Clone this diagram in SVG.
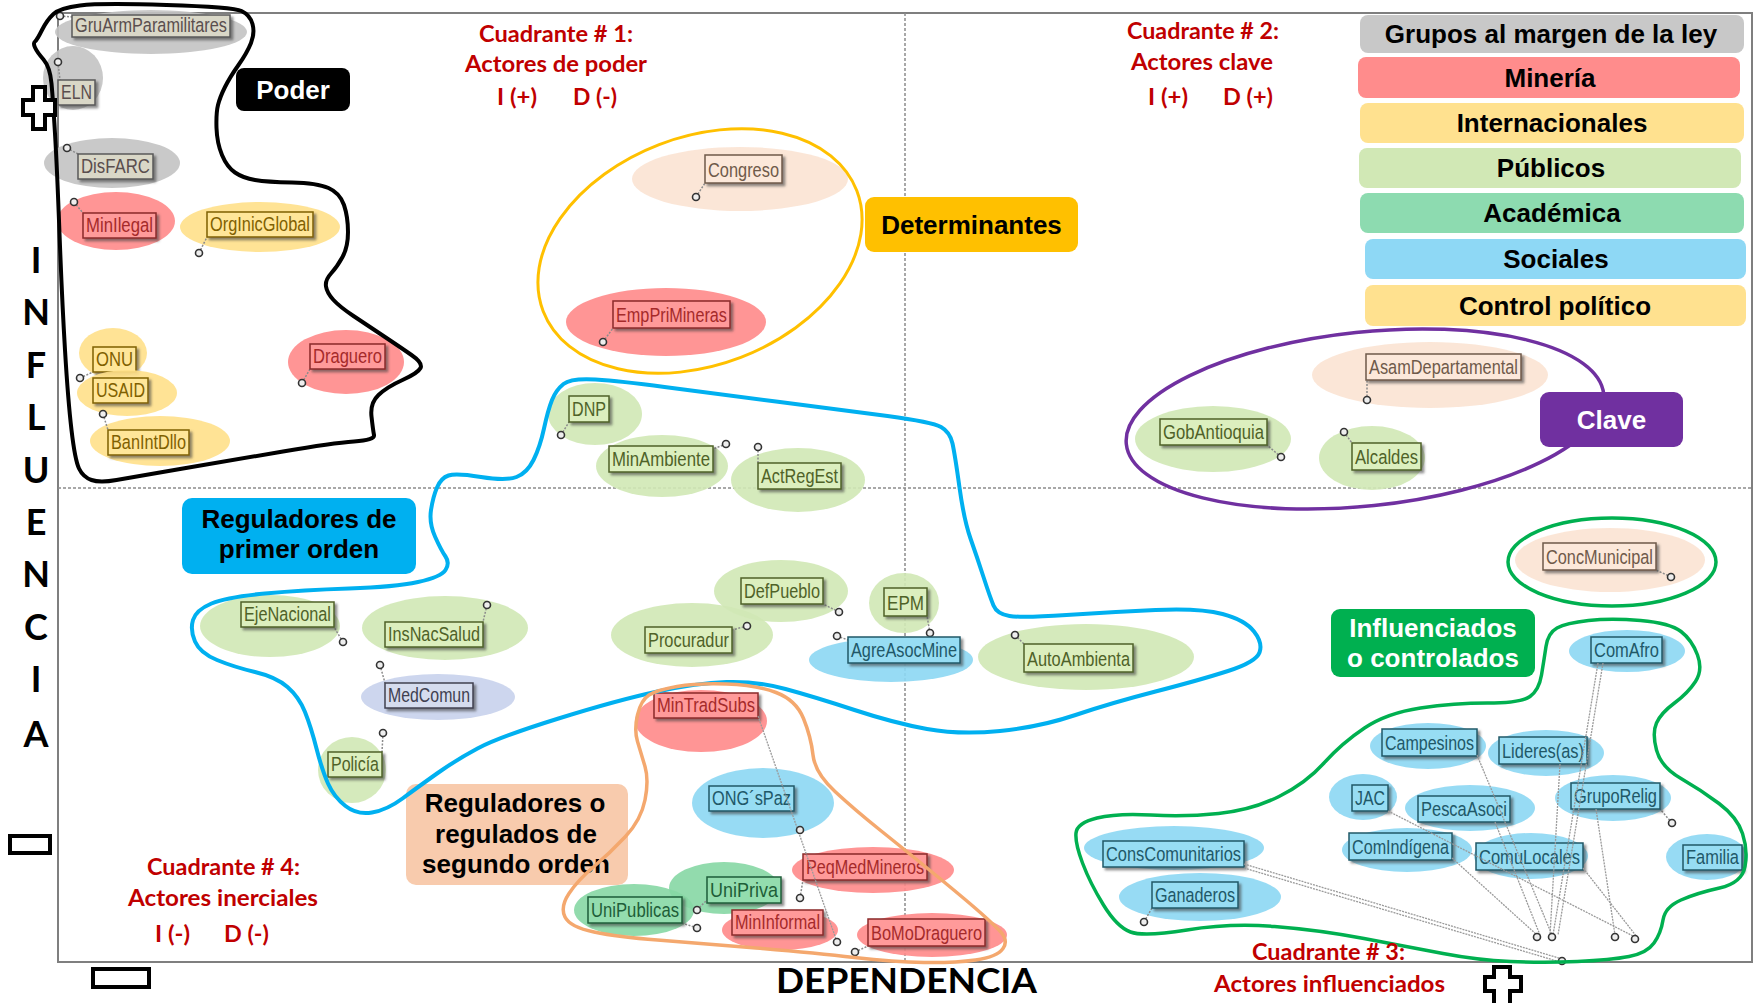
<svg xmlns="http://www.w3.org/2000/svg" xmlns:xlink="http://www.w3.org/1999/xlink" width="1754" height="1003" viewBox="0 0 1754 1003">
<style>
.e{fill-opacity:.9}
.e-gr{fill:#C3C3C3}.e-mi{fill:#FF8A8A}.e-in{fill:#FFE08A}.e-pu{fill:#D0E8B5}.e-ac{fill:#86D7A4}.e-so{fill:#8CD7F3}.e-cp{fill:#FBE3D3}.e-mc{fill:#C8D2EC}
.b{stroke-width:1.5;filter:url(#sh)}
.b-gr{fill:#D9D7C7;stroke:#595959}.b-mi{fill:#FF9A9A;stroke:#8B2A2A}.b-in{fill:#FFE699;stroke:#7F6000}.b-pu{fill:#DCEFBE;stroke:#4F6228}.b-ac{fill:#93DDAE;stroke:#1E5E38}.b-so{fill:#97DDF3;stroke:#215868}.b-cp{fill:#FCE8DA;stroke:#6F5A4A}.b-mc{fill:#D5DCEE;stroke:#404050}
.t{font-family:"Liberation Sans",Arial,sans-serif;font-size:20.5px}
.t-gr{fill:#5A4E4E}.t-mi{fill:#A52A2A}.t-in{fill:#7F6000}.t-pu{fill:#4F6228}.t-ac{fill:#1E5E38}.t-so{fill:#215868}.t-cp{fill:#6F5A4A}.t-mc{fill:#404050}
.pl{stroke:#8C8C8C;stroke-width:1.5;stroke-dasharray:2 1.5;fill:none}
.cn{stroke:#9A9A9A;stroke-width:1.3;stroke-dasharray:2 1;fill:none}
.blob{fill:none;stroke-linejoin:round}
.lg{font-family:"Liberation Sans",Arial,sans-serif;font-weight:bold;font-size:26px;text-anchor:middle;fill:#000}
.cw{fill:#fff}
.q{font-family:Lato,"Liberation Sans",sans-serif;font-weight:bold;font-size:22px;fill:#C00000}
.ax{font-family:Lato,"Liberation Sans",sans-serif;font-weight:bold;font-size:36px;fill:#000;text-anchor:middle}
.sg{fill:#fff;stroke:#000;stroke-width:4}
</style>
<defs>
<filter id="sh" x="-10%" y="-20%" width="130%" height="160%"><feDropShadow dx="2.5" dy="2.5" stdDeviation="1" flood-color="#404040" flood-opacity="0.6"/></filter>
<g id="pin"><circle r="3.5" fill="#EEEEEE" stroke="#333333" stroke-width="1.6"/></g>
</defs>
<rect width="1754" height="1003" fill="#fff"/>
<g id="frame">
<rect x="58" y="13" width="1694" height="949" fill="none" stroke="#7F7F7F" stroke-width="2"/>
<line x1="58" y1="488" x2="1752" y2="488" stroke="#8C8C8C" stroke-width="1.5" stroke-dasharray="3 2"/>
<line x1="905" y1="13" x2="905" y2="962" stroke="#8C8C8C" stroke-width="1.5" stroke-dasharray="3 2"/>
</g>
<g id="nodes">
<g id="n-GruArmParamilitares"><ellipse class="e e-gr" cx="151" cy="32" rx="96" ry="22"/><line class="pl" x1="60" y1="16" x2="72" y2="17"/><use href="#pin" x="60" y="16"/><rect class="b b-gr" x="72" y="15" width="158" height="22"/><text class="t t-gr" x="75" y="32" textLength="152" lengthAdjust="spacingAndGlyphs">GruArmParamilitares</text></g>
<g id="n-ELN"><ellipse class="e e-gr" cx="73" cy="78" rx="30" ry="32"/><line class="pl" x1="58" y1="62" x2="60" y2="80"/><use href="#pin" x="58" y="62"/><rect class="b b-gr" x="58" y="80" width="37" height="25"/><text class="t t-gr" x="61" y="99" textLength="31" lengthAdjust="spacingAndGlyphs">ELN</text></g>
<g id="n-DisFARC"><ellipse class="e e-gr" cx="112" cy="163" rx="68" ry="25"/><line class="pl" x1="67" y1="148" x2="78" y2="154"/><use href="#pin" x="67" y="148"/><rect class="b b-gr" x="78" y="154" width="75" height="25"/><text class="t t-gr" x="81" y="173" textLength="69" lengthAdjust="spacingAndGlyphs">DisFARC</text></g>
<g id="n-MinIlegal"><ellipse class="e e-mi" cx="116" cy="221" rx="59" ry="29"/><line class="pl" x1="74" y1="202" x2="83" y2="213"/><use href="#pin" x="74" y="202"/><rect class="b b-mi" x="83" y="213" width="73" height="25"/><text class="t t-mi" x="86" y="232" textLength="67" lengthAdjust="spacingAndGlyphs">MinIlegal</text></g>
<g id="n-OrgInicGlobal"><ellipse class="e e-in" cx="260" cy="227" rx="80" ry="25"/><line class="pl" x1="199" y1="253" x2="207" y2="237"/><use href="#pin" x="199" y="253"/><rect class="b b-in" x="207" y="212" width="106" height="25"/><text class="t t-in" x="210" y="231" textLength="100" lengthAdjust="spacingAndGlyphs">OrgInicGlobal</text></g>
<g id="n-Draguero"><ellipse class="e e-mi" cx="346" cy="362" rx="58" ry="32"/><line class="pl" x1="302" y1="383" x2="310" y2="369"/><use href="#pin" x="302" y="383"/><rect class="b b-mi" x="310" y="344" width="75" height="25"/><text class="t t-mi" x="313" y="363" textLength="69" lengthAdjust="spacingAndGlyphs">Draguero</text></g>
<g id="n-ONU"><ellipse class="e e-in" cx="113" cy="353" rx="34" ry="25"/><rect class="b b-in" x="93" y="347" width="43" height="25"/><text class="t t-in" x="96" y="366" textLength="37" lengthAdjust="spacingAndGlyphs">ONU</text></g>
<g id="n-USAID"><ellipse class="e e-in" cx="127" cy="393" rx="50" ry="23"/><line class="pl" x1="80" y1="378" x2="93" y2="372"/><use href="#pin" x="80" y="378"/><rect class="b b-in" x="93" y="378" width="55" height="25"/><text class="t t-in" x="96" y="397" textLength="49" lengthAdjust="spacingAndGlyphs">USAID</text></g>
<g id="n-BanIntDllo"><ellipse class="e e-in" cx="160" cy="441" rx="70" ry="25"/><line class="pl" x1="103" y1="414" x2="108" y2="430"/><use href="#pin" x="103" y="414"/><rect class="b b-in" x="108" y="430" width="81" height="25"/><text class="t t-in" x="111" y="449" textLength="75" lengthAdjust="spacingAndGlyphs">BanIntDllo</text></g>
<g id="n-Congreso"><ellipse class="e e-cp" cx="740" cy="179" rx="108" ry="32"/><line class="pl" x1="696" y1="197" x2="705" y2="183"/><use href="#pin" x="696" y="197"/><rect class="b b-cp" x="705" y="155" width="77" height="28"/><text class="t t-cp" x="708" y="177" textLength="71" lengthAdjust="spacingAndGlyphs">Congreso</text></g>
<g id="n-EmpPriMineras"><ellipse class="e e-mi" cx="666" cy="322" rx="100" ry="34"/><line class="pl" x1="603" y1="342" x2="613" y2="328"/><use href="#pin" x="603" y="342"/><rect class="b b-mi" x="613" y="301" width="117" height="27"/><text class="t t-mi" x="616" y="322" textLength="111" lengthAdjust="spacingAndGlyphs">EmpPriMineras</text></g>
<g id="n-AsamDepartamental"><ellipse class="e e-cp" cx="1430" cy="375" rx="118" ry="33"/><line class="pl" x1="1367" y1="400" x2="1367" y2="380"/><use href="#pin" x="1367" y="400"/><rect class="b b-cp" x="1366" y="354" width="155" height="26"/><text class="t t-cp" x="1369" y="374" textLength="149" lengthAdjust="spacingAndGlyphs">AsamDepartamental</text></g>
<g id="n-GobAntioquia"><ellipse class="e e-pu" cx="1213" cy="439" rx="78" ry="33"/><line class="pl" x1="1281" y1="457" x2="1267" y2="445"/><use href="#pin" x="1281" y="457"/><rect class="b b-pu" x="1160" y="419" width="107" height="26"/><text class="t t-pu" x="1163" y="439" textLength="101" lengthAdjust="spacingAndGlyphs">GobAntioquia</text></g>
<g id="n-Alcaldes"><ellipse class="e e-pu" cx="1372" cy="458" rx="53" ry="32"/><line class="pl" x1="1344" y1="432" x2="1352" y2="443"/><use href="#pin" x="1344" y="432"/><rect class="b b-pu" x="1352" y="443" width="69" height="27"/><text class="t t-pu" x="1355" y="464" textLength="63" lengthAdjust="spacingAndGlyphs">Alcaldes</text></g>
<g id="n-DNP"><ellipse class="e e-pu" cx="595" cy="414" rx="47" ry="31"/><line class="pl" x1="561" y1="435" x2="569" y2="422"/><use href="#pin" x="561" y="435"/><rect class="b b-pu" x="569" y="396" width="40" height="26"/><text class="t t-pu" x="572" y="416" textLength="34" lengthAdjust="spacingAndGlyphs">DNP</text></g>
<g id="n-MinAmbiente"><ellipse class="e e-pu" cx="662" cy="466" rx="66" ry="31"/><line class="pl" x1="726" y1="444" x2="713" y2="449"/><use href="#pin" x="726" y="444"/><rect class="b b-pu" x="609" y="446" width="104" height="26"/><text class="t t-pu" x="612" y="466" textLength="98" lengthAdjust="spacingAndGlyphs">MinAmbiente</text></g>
<g id="n-ActRegEst"><ellipse class="e e-pu" cx="798" cy="480" rx="67" ry="32"/><line class="pl" x1="758" y1="447" x2="758" y2="463"/><use href="#pin" x="758" y="447"/><rect class="b b-pu" x="758" y="463" width="83" height="26"/><text class="t t-pu" x="761" y="483" textLength="77" lengthAdjust="spacingAndGlyphs">ActRegEst</text></g>
<g id="n-EjeNacional"><ellipse class="e e-pu" cx="270" cy="626" rx="70" ry="31"/><line class="pl" x1="343" y1="642" x2="334" y2="627"/><use href="#pin" x="343" y="642"/><rect class="b b-pu" x="241" y="602" width="93" height="25"/><text class="t t-pu" x="244" y="621" textLength="87" lengthAdjust="spacingAndGlyphs">EjeNacional</text></g>
<g id="n-InsNacSalud"><ellipse class="e e-pu" cx="445" cy="628" rx="83" ry="32"/><line class="pl" x1="487" y1="605" x2="483" y2="622"/><use href="#pin" x="487" y="605"/><rect class="b b-pu" x="385" y="622" width="98" height="25"/><text class="t t-pu" x="388" y="641" textLength="92" lengthAdjust="spacingAndGlyphs">InsNacSalud</text></g>
<g id="n-MedComun"><ellipse class="e e-mc" cx="438" cy="697" rx="77" ry="23"/><line class="pl" x1="380" y1="665" x2="385" y2="683"/><use href="#pin" x="380" y="665"/><rect class="b b-mc" x="385" y="683" width="88" height="25"/><text class="t t-mc" x="388" y="702" textLength="82" lengthAdjust="spacingAndGlyphs">MedComun</text></g>
<g id="n-Policia"><ellipse class="e e-pu" cx="352" cy="770" rx="34" ry="33"/><line class="pl" x1="383" y1="733" x2="382" y2="752"/><use href="#pin" x="383" y="733"/><rect class="b b-pu" x="328" y="752" width="54" height="25"/><text class="t t-pu" x="331" y="771" textLength="48" lengthAdjust="spacingAndGlyphs">Policía</text></g>
<g id="n-Procuradur"><ellipse class="e e-pu" cx="692" cy="635" rx="81" ry="32"/><line class="pl" x1="747" y1="626" x2="732" y2="630"/><use href="#pin" x="747" y="626"/><rect class="b b-pu" x="645" y="627" width="87" height="26"/><text class="t t-pu" x="648" y="647" textLength="81" lengthAdjust="spacingAndGlyphs">Procuradur</text></g>
<g id="n-DefPueblo"><ellipse class="e e-pu" cx="781" cy="591" rx="67" ry="31"/><line class="pl" x1="839" y1="612" x2="823" y2="604"/><use href="#pin" x="839" y="612"/><rect class="b b-pu" x="741" y="578" width="82" height="26"/><text class="t t-pu" x="744" y="598" textLength="76" lengthAdjust="spacingAndGlyphs">DefPueblo</text></g>
<g id="n-EPM"><ellipse class="e e-pu" cx="904" cy="603" rx="35" ry="30"/><line class="pl" x1="930" y1="633" x2="927" y2="616"/><use href="#pin" x="930" y="633"/><rect class="b b-pu" x="884" y="588" width="43" height="28"/><text class="t t-pu" x="887" y="610" textLength="37" lengthAdjust="spacingAndGlyphs">EPM</text></g>
<g id="n-AgreAsocMine"><ellipse class="e e-so" cx="891" cy="660" rx="82" ry="22"/><line class="pl" x1="837" y1="636" x2="848" y2="640"/><use href="#pin" x="837" y="636"/><rect class="b b-so" x="848" y="637" width="112" height="26"/><text class="t t-so" x="851" y="657" textLength="106" lengthAdjust="spacingAndGlyphs">AgreAsocMine</text></g>
<g id="n-AutoAmbienta"><ellipse class="e e-pu" cx="1086" cy="657" rx="108" ry="33"/><line class="pl" x1="1015" y1="635" x2="1024" y2="644"/><use href="#pin" x="1015" y="635"/><rect class="b b-pu" x="1024" y="644" width="109" height="28"/><text class="t t-pu" x="1027" y="666" textLength="103" lengthAdjust="spacingAndGlyphs">AutoAmbienta</text></g>
<g id="n-MinTradSubs"><ellipse class="e e-mi" cx="701" cy="721" rx="66" ry="31"/><rect class="b b-mi" x="654" y="693" width="104" height="25"/><text class="t t-mi" x="657" y="712" textLength="98" lengthAdjust="spacingAndGlyphs">MinTradSubs</text></g>
<g id="n-ONGsPaz"><ellipse class="e e-so" cx="763" cy="803" rx="71" ry="35"/><rect class="b b-so" x="709" y="786" width="85" height="25"/><text class="t t-so" x="712" y="805" textLength="79" lengthAdjust="spacingAndGlyphs">ONG´sPaz</text></g>
<g id="n-PeqMedMineros"><ellipse class="e e-mi" cx="873" cy="870" rx="81" ry="23"/><line class="pl" x1="800" y1="898" x2="803" y2="880"/><use href="#pin" x="800" y="898"/><rect class="b b-mi" x="803" y="854" width="124" height="26"/><text class="t t-mi" x="806" y="874" textLength="118" lengthAdjust="spacingAndGlyphs">PeqMedMineros</text></g>
<g id="n-UniPriva"><ellipse class="e e-ac" cx="724" cy="888" rx="55" ry="26"/><rect class="b b-ac" x="707" y="877" width="74" height="26"/><text class="t t-ac" x="710" y="897" textLength="68" lengthAdjust="spacingAndGlyphs">UniPriva</text></g>
<g id="n-UniPublicas"><ellipse class="e e-ac" cx="634" cy="910" rx="60" ry="26"/><line class="pl" x1="697" y1="910" x2="707" y2="900"/><use href="#pin" x="697" y="910"/><line class="pl" x1="697" y1="928" x2="682" y2="923"/><use href="#pin" x="697" y="928"/><rect class="b b-ac" x="588" y="897" width="94" height="26"/><text class="t t-ac" x="591" y="917" textLength="88" lengthAdjust="spacingAndGlyphs">UniPublicas</text></g>
<g id="n-MinInformal"><ellipse class="e e-mi" cx="780" cy="930" rx="58" ry="20"/><rect class="b b-mi" x="732" y="910" width="91" height="25"/><text class="t t-mi" x="735" y="929" textLength="85" lengthAdjust="spacingAndGlyphs">MinInformal</text></g>
<g id="n-BoMoDraguero"><ellipse class="e e-mi" cx="932" cy="935" rx="75" ry="22"/><line class="pl" x1="855" y1="952" x2="868" y2="946"/><use href="#pin" x="855" y="952"/><rect class="b b-mi" x="868" y="919" width="117" height="27"/><text class="t t-mi" x="871" y="940" textLength="111" lengthAdjust="spacingAndGlyphs">BoMoDraguero</text></g>
<g id="n-ConcMunicipal"><ellipse class="e e-cp" cx="1610" cy="560" rx="95" ry="32"/><line class="pl" x1="1671" y1="577" x2="1656" y2="570"/><use href="#pin" x="1671" y="577"/><rect class="b b-cp" x="1543" y="543" width="113" height="27"/><text class="t t-cp" x="1546" y="564" textLength="107" lengthAdjust="spacingAndGlyphs">ConcMunicipal</text></g>
<g id="n-ComAfro"><ellipse class="e e-so" cx="1627" cy="651" rx="58" ry="21"/><rect class="b b-so" x="1591" y="637" width="71" height="26"/><text class="t t-so" x="1594" y="657" textLength="65" lengthAdjust="spacingAndGlyphs">ComAfro</text></g>
<g id="n-Campesinos"><ellipse class="e e-so" cx="1428" cy="746" rx="58" ry="23"/><rect class="b b-so" x="1382" y="729" width="95" height="27"/><text class="t t-so" x="1385" y="750" textLength="89" lengthAdjust="spacingAndGlyphs">Campesinos</text></g>
<g id="n-Lideres"><ellipse class="e e-so" cx="1546" cy="753" rx="58" ry="23"/><rect class="b b-so" x="1499" y="737" width="88" height="27"/><text class="t t-so" x="1502" y="758" textLength="82" lengthAdjust="spacingAndGlyphs">Lideres(as)</text></g>
<g id="n-JAC"><ellipse class="e e-so" cx="1363" cy="797" rx="34" ry="23"/><rect class="b b-so" x="1352" y="785" width="36" height="26"/><text class="t t-so" x="1355" y="805" textLength="30" lengthAdjust="spacingAndGlyphs">JAC</text></g>
<g id="n-PescaAsoci"><ellipse class="e e-so" cx="1470" cy="808" rx="65" ry="23"/><rect class="b b-so" x="1418" y="796" width="92" height="26"/><text class="t t-so" x="1421" y="816" textLength="86" lengthAdjust="spacingAndGlyphs">PescaAsoci</text></g>
<g id="n-GrupoRelig"><ellipse class="e e-so" cx="1613" cy="798" rx="58" ry="23"/><line class="pl" x1="1672" y1="823" x2="1660" y2="809"/><use href="#pin" x="1672" y="823"/><rect class="b b-so" x="1571" y="783" width="89" height="26"/><text class="t t-so" x="1574" y="803" textLength="83" lengthAdjust="spacingAndGlyphs">GrupoRelig</text></g>
<g id="n-ComIndigena"><ellipse class="e e-so" cx="1407" cy="850" rx="65" ry="22"/><rect class="b b-so" x="1349" y="833" width="103" height="27"/><text class="t t-so" x="1352" y="854" textLength="97" lengthAdjust="spacingAndGlyphs">ComIndígena</text></g>
<g id="n-ComuLocales"><ellipse class="e e-so" cx="1531" cy="856" rx="57" ry="23"/><rect class="b b-so" x="1476" y="843" width="107" height="27"/><text class="t t-so" x="1479" y="864" textLength="101" lengthAdjust="spacingAndGlyphs">ComuLocales</text></g>
<g id="n-Familia"><ellipse class="e e-so" cx="1707" cy="857" rx="41" ry="23"/><rect class="b b-so" x="1683" y="845" width="59" height="25"/><text class="t t-so" x="1686" y="864" textLength="53" lengthAdjust="spacingAndGlyphs">Familia</text></g>
<g id="n-ConsComunitarios"><ellipse class="e e-so" cx="1174" cy="848" rx="90" ry="22"/><rect class="b b-so" x="1103" y="841" width="141" height="26"/><text class="t t-so" x="1106" y="861" textLength="135" lengthAdjust="spacingAndGlyphs">ConsComunitarios</text></g>
<g id="n-Ganaderos"><ellipse class="e e-so" cx="1200" cy="897" rx="81" ry="24"/><line class="pl" x1="1144" y1="922" x2="1152" y2="908"/><use href="#pin" x="1144" y="922"/><rect class="b b-so" x="1152" y="882" width="86" height="26"/><text class="t t-so" x="1155" y="902" textLength="80" lengthAdjust="spacingAndGlyphs">Ganaderos</text></g>
</g>
<g id="c-segundo"><rect x="406" y="784" width="222" height="101" rx="10" fill="#F8CBAD"/>
<text class="lg" x="515" y="812">Reguladores o</text><text class="lg" x="516" y="843">regulados de</text><text class="lg" x="516" y="873">segundo orden</text></g>
<g id="connectors">
<line class="cn" x1="758" y1="716" x2="837" y2="942"/>
<line class="cn" x1="1244" y1="864" x2="1562" y2="959"/>
<line class="cn" x1="1244" y1="868" x2="1560" y2="962"/>
<line class="cn" x1="1598" y1="663" x2="1553" y2="935"/>
<line class="cn" x1="1603" y1="663" x2="1558" y2="935"/>
<line class="cn" x1="1477" y1="755" x2="1552" y2="935"/>
<line class="cn" x1="1388" y1="811" x2="1635" y2="937"/>
<line class="cn" x1="1452" y1="858" x2="1537" y2="935"/>
<line class="cn" x1="1596" y1="809" x2="1615" y2="935"/>
<line class="cn" x1="1583" y1="868" x2="1637" y2="937"/>
<line class="cn" x1="1495" y1="822" x2="1540" y2="935"/>
<line class="cn" x1="1560" y1="764" x2="1550" y2="935"/>
<use href="#pin" x="800" y="830"/><use href="#pin" x="837" y="942"/>
<use href="#pin" x="1537" y="937"/><use href="#pin" x="1552" y="937"/><use href="#pin" x="1615" y="937"/><use href="#pin" x="1635" y="939"/><use href="#pin" x="1562" y="961"/>
</g>
<g id="groups">
<path id="g-poder" class="blob" stroke="#000" stroke-width="4" d="M35,41.5 Q37,40 42,30 Q47,20 53.5,14 Q60,8 80,5.5 Q100,3 166.5,5 Q233,7 241.5,11 Q250,15 252.5,24 Q255,33 251,43 Q247,53 238.5,65 Q230,77 225,87 Q220,97 218,105 Q216,113 216.5,128 Q217,143 222,155 Q227,167 235,172.5 Q243,178 255,180 Q267,182 292,182.5 Q317,183 328.5,188 Q340,193 344,205 Q348,217 348,232 Q348,247 342.5,257 Q337,267 331,273.5 Q325,280 326,286.5 Q327,293 333.5,300 Q340,307 353.5,316 Q367,325 383.5,336 Q400,347 411.5,355 Q423,363 420.5,368 Q418,373 402.5,380 Q387,387 378.5,395 Q370,403 371.5,416.5 Q373,430 374,435 Q375,440 354,441.5 Q333,443 283,451.5 Q233,460 183,468.5 Q133,477 116.5,480 Q100,483 91.5,480 Q83,477 79,468.5 Q75,460 71.5,430 Q68,400 65,350 Q62,300 59.5,233.5 Q57,167 55,133.5 Q53,100 51.5,83.5 Q50,67 43.5,59.5 Q37,52 35,47.5 Q33,43 35,41.5 Z"/>
<ellipse id="g-determinantes" class="blob" cx="700" cy="251" rx="168" ry="114" transform="rotate(-21 700 251)" stroke="#FFC000" stroke-width="3"/>
<ellipse id="g-clave" class="blob" cx="1365" cy="419" rx="240" ry="87" transform="rotate(-6 1365 419)" stroke="#7030A0" stroke-width="3.5"/>
<path id="g-primer" class="blob" stroke="#00B0F0" stroke-width="4" d="M563.5,384 Q571,378 595.5,379.5 Q620,381 664.5,387 Q709,393 776,401.5 Q843,410 887.5,416 Q932,422 941,427 Q950,432 952.5,443.5 Q955,455 959.5,487.5 Q964,520 970.5,538.5 Q977,557 983.5,577 Q990,597 993.5,605.5 Q997,614 1009.5,616 Q1022,618 1066.5,615 Q1111,612 1155.5,610 Q1200,608 1222.5,614 Q1245,620 1254,631.5 Q1263,643 1259.5,652.5 Q1256,662 1228,671 Q1200,680 1155.5,691.5 Q1111,703 1075.5,715 Q1040,727 1000,731 Q960,735 927,729 Q894,723 854.5,710 Q815,697 785.5,689 Q756,681 726.5,682 Q697,683 657.5,691.5 Q618,700 558.5,718.5 Q499,737 477.5,748.5 Q456,760 437,773.5 Q418,787 402.5,798.5 Q387,810 372,812.5 Q357,815 345.5,806 Q334,797 328,783.5 Q322,770 316.5,748.5 Q311,727 305,712 Q299,697 287.5,687 Q276,677 255,672 Q234,667 217,660 Q200,653 195,641.5 Q190,630 193,620 Q196,610 211.5,603.5 Q227,597 265,593.5 Q303,590 349,588.5 Q395,587 418,582 Q441,577 445.5,570 Q450,563 445.5,556.5 Q441,550 435,536.5 Q429,523 431,510 Q433,497 437,487.5 Q441,478 448.5,475.5 Q456,473 481,477 Q506,481 516.5,477 Q527,473 533.5,460 Q540,447 544,428.5 Q548,410 552,400 Q556,390 563.5,384 Z"/>
<path id="g-segundo" class="blob" stroke="#F4A86E" stroke-width="3.5" d="M677,686.5 Q657,690 649,695 Q641,700 637.5,715 Q634,730 637.5,741.5 Q641,753 645,766.5 Q649,780 645,800 Q641,820 625.5,836.5 Q610,853 594,866.5 Q578,880 569,893.5 Q560,907 565,917 Q570,927 594,932 Q618,937 657.5,940 Q697,943 756,948 Q815,953 854.5,957.5 Q894,962 924,962.5 Q954,963 975.5,960 Q997,957 1003,948.5 Q1009,940 999,930 Q989,920 974.5,907.5 Q960,895 932.5,872.5 Q905,850 880,830 Q855,810 835,791.5 Q815,773 813,755 Q811,737 803.5,718.5 Q796,700 776,692.5 Q756,685 726.5,684 Q697,683 677,686.5 Z"/>
<ellipse id="g-concmunicipal" class="blob" cx="1612" cy="562" rx="104" ry="44" stroke="#00B050" stroke-width="3.5"/>
<path id="g-influenciados" class="blob" stroke="#00B050" stroke-width="3.5" d="M1546,646.5 Q1548,633 1557,628 Q1566,623 1588.5,620.5 Q1611,618 1640.5,620.5 Q1670,623 1681,631.5 Q1692,640 1697.5,655 Q1703,670 1695.5,681.5 Q1688,693 1674.5,703 Q1661,713 1656.5,723 Q1652,733 1656.5,750 Q1661,767 1681,778.5 Q1701,790 1719,803.5 Q1737,817 1742.5,833.5 Q1748,850 1745,866.5 Q1742,883 1719.5,888 Q1697,893 1681,900 Q1665,907 1663,920 Q1661,933 1654,943 Q1647,953 1629,956.5 Q1611,960 1577.5,961.5 Q1544,963 1510.5,961.5 Q1477,960 1443,953.5 Q1409,947 1364,938.5 Q1319,930 1274.5,926.5 Q1230,923 1187,930 Q1144,937 1130.5,932 Q1117,927 1103.5,905 Q1090,883 1082.5,863 Q1075,843 1076,833 Q1077,823 1097,818 Q1117,813 1151,815 Q1185,817 1218.5,813.5 Q1252,810 1279,796.5 Q1306,783 1324,763 Q1342,743 1364.5,728 Q1387,713 1420.5,708 Q1454,703 1487.5,703 Q1521,703 1530,696.5 Q1539,690 1541.5,675 Q1544,660 1546,646.5 Z"/>
</g>
<g id="callouts">
<g id="c-poder"><rect x="236" y="68" width="114" height="43" rx="8" fill="#000"/><text class="lg cw" x="293" y="99">Poder</text></g>
<g id="c-determinantes"><rect x="865" y="197" width="213" height="55" rx="9" fill="#FFC000"/><text class="lg" x="971.5" y="234">Determinantes</text></g>
<g id="c-clave"><rect x="1540" y="392" width="143" height="55" rx="9" fill="#7030A0"/><text class="lg cw" x="1611.5" y="429">Clave</text></g>
<g id="c-primer"><rect x="182" y="498" width="234" height="76" rx="10" fill="#00B0F0"/><text class="lg" x="299" y="528">Reguladores de</text><text class="lg" x="299" y="558">primer orden</text></g>
<g id="c-influenciados"><rect x="1331" y="609" width="204" height="68" rx="9" fill="#00B050"/><text class="lg cw" x="1433" y="637">Influenciados</text><text class="lg cw" x="1433" y="667">o controlados</text></g>
</g>
<g id="legend">
<rect x="1360" y="15" width="384" height="38" rx="8" fill="#C8C8C8"/><text class="lg" x="1551" y="43">Grupos al margen de la ley</text>
<rect x="1358" y="57" width="382" height="41" rx="8" fill="#FF8C8C"/><text class="lg" x="1550" y="87">Minería</text>
<rect x="1360" y="103" width="384" height="40" rx="8" fill="#FFE18F"/><text class="lg" x="1552" y="132">Internacionales</text>
<rect x="1359" y="148" width="382" height="40" rx="8" fill="#D1E8B5"/><text class="lg" x="1551" y="177">Públicos</text>
<rect x="1360" y="193" width="384" height="40" rx="8" fill="#8DDBB0"/><text class="lg" x="1552" y="222">Académica</text>
<rect x="1365" y="239" width="381" height="40" rx="8" fill="#8ED8F5"/><text class="lg" x="1556" y="268">Sociales</text>
<rect x="1365" y="285" width="381" height="41" rx="8" fill="#FFE18F"/><text class="lg" x="1555" y="315">Control político</text>
</g>
<g id="quadrant-labels">
<text class="q" x="479" y="42" textLength="154" lengthAdjust="spacingAndGlyphs">Cuadrante # 1:</text>
<text class="q" x="465" y="72" textLength="182" lengthAdjust="spacingAndGlyphs">Actores de poder</text>
<text class="q" x="497" y="105" textLength="40" lengthAdjust="spacingAndGlyphs">I (+)</text>
<text class="q" x="573" y="105" textLength="44" lengthAdjust="spacingAndGlyphs">D (-)</text>
<text class="q" x="1127" y="39" textLength="152" lengthAdjust="spacingAndGlyphs">Cuadrante # 2:</text>
<text class="q" x="1131" y="70" textLength="142" lengthAdjust="spacingAndGlyphs">Actores clave</text>
<text class="q" x="1148" y="105" textLength="40" lengthAdjust="spacingAndGlyphs">I (+)</text>
<text class="q" x="1223" y="105" textLength="50" lengthAdjust="spacingAndGlyphs">D (+)</text>
<text class="q" x="1252" y="960" textLength="153" lengthAdjust="spacingAndGlyphs">Cuadrante # 3:</text>
<text class="q" x="1214" y="992" textLength="231" lengthAdjust="spacingAndGlyphs">Actores influenciados</text>
<text class="q" x="147" y="875" textLength="153" lengthAdjust="spacingAndGlyphs">Cuadrante # 4:</text>
<text class="q" x="128" y="906" textLength="190" lengthAdjust="spacingAndGlyphs">Actores inerciales</text>
<text class="q" x="155" y="942" textLength="35" lengthAdjust="spacingAndGlyphs">I (-)</text>
<text class="q" x="224" y="942" textLength="45" lengthAdjust="spacingAndGlyphs">D (-)</text>
</g>
<g id="axes">
<text class="ax" x="36" y="273">I</text><text class="ax" x="36" y="325">N</text><text class="ax" x="36" y="378">F</text><text class="ax" x="36" y="430">L</text><text class="ax" x="36" y="483">U</text><text class="ax" x="36" y="535">E</text><text class="ax" x="36" y="587">N</text><text class="ax" x="36" y="640">C</text><text class="ax" x="36" y="692">I</text><text class="ax" x="36" y="747">A</text>
<text class="ax" x="776" y="993" style="text-anchor:start;font-size:35px" textLength="261" lengthAdjust="spacingAndGlyphs">DEPENDENCIA</text>
<path class="sg" d="M33,87 H45 V100 H55 V115 H45 V129 H33 V115 H23 V100 H33 Z"/>
<path class="sg" d="M1494,967 H1510 V977 H1521 V991 H1510 V1010 H1494 V991 H1485 V977 H1494 Z"/>
<rect class="sg" x="10" y="836" width="40" height="17"/>
<rect class="sg" x="93" y="969" width="56" height="18"/>
</g>
</svg>
